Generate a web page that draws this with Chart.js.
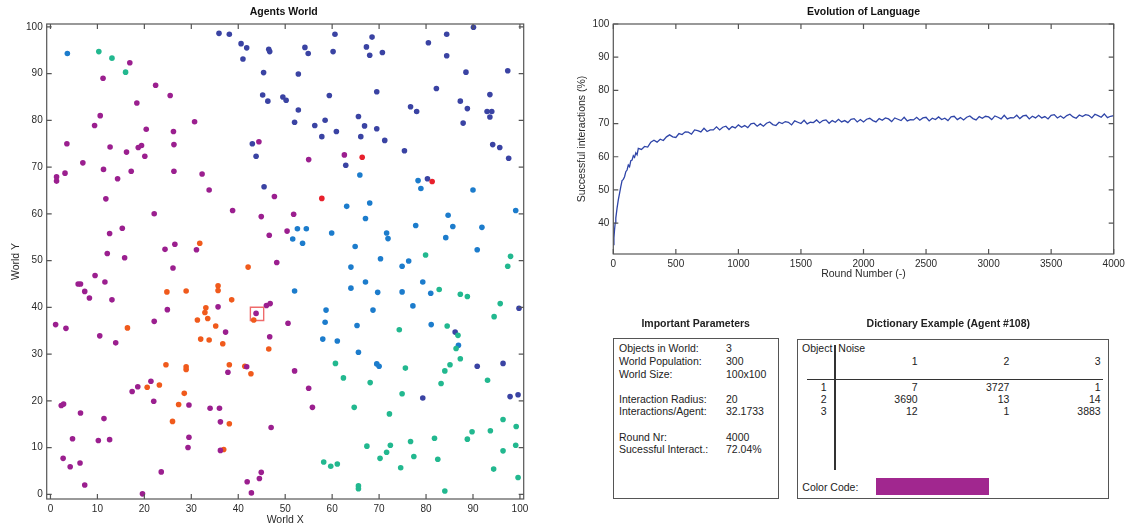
<!DOCTYPE html>
<html>
<head>
<meta charset="utf-8">
<script src="https://cdn.jsdelivr.net/npm/chart.js@4"></script>
<style>
  body { margin: 0; width: 1133px; height: 528px; overflow: hidden; background: #fff;
         font-family: 'Liberation Sans', Arial, sans-serif; color: #222; position: relative; }
  canvas { position: absolute; top: 0; }
  .t { position: absolute; font-size: 10.5px; line-height: 12px; white-space: nowrap; }
  .b { font-weight: bold; }
  .box { position: absolute; border: 1.3px solid #555; box-sizing: border-box; }
  .rule { position: absolute; background: #333; }
</style>
</head>
<body>
<canvas id="world" width="560" height="528" style="left:0"></canvas>
<canvas id="evolution" width="573" height="290" style="left:560px"></canvas>
<div id="panels"></div>
<script>
// Agents World - one list per colour group [x, y]
const darkBlueAgents = [[35.9,98.6],[38.1,98.4],[40.6,96.4],[41.8,95.5],[41.0,93.1],[46.5,95.2],[46.7,94.7],[45.4,90.2],[45.2,85.4],[46.3,84.1],
  [49.5,85.0],[50.2,84.3],[43.0,75.0],[43.8,72.3],[45.5,65.8],[60.6,98.4],[54.2,95.6],[54.9,94.3],[60.2,94.7],[68.5,97.8],
  [67.3,95.7],[68.0,93.9],[70.7,94.5],[80.5,96.6],[84.4,98.4],[84.4,93.8],[90.1,99.9],[88.5,90.3],[97.4,90.6],[52.8,89.9],
  [82.2,86.8],[69.5,86.1],[59.4,85.3],[87.3,84.1],[93.6,85.5],[52.8,82.2],[76.7,82.9],[78.0,81.9],[88.8,82.5],[93.0,81.9],
  [94.0,81.9],[93.6,80.7],[52.0,79.6],[56.3,78.9],[58.5,80.0],[65.6,80.8],[66.9,78.8],[69.5,78.2],[60.9,77.6],[57.8,76.5],
  [66.1,76.5],[71.2,75.7],[87.9,79.4],[94.2,74.8],[95.7,74.2],[97.6,71.9],[75.4,73.5],[62.9,70.4],[80.3,67.5],[99.8,39.8],
  [86.2,34.7],[90.9,27.4],[96.4,28.0],[79.3,20.6],[97.9,20.9],[99.6,21.3]];
const blueAgents = [[3.6,94.3],[65.9,68.3],[78.3,67.1],[78.9,65.4],[90.0,65.1],[63.1,61.6],[68.0,62.3],[67.1,59.0],[99.1,60.7],[84.7,59.7],
  [85.7,57.3],[91.9,57.1],[77.8,57.5],[52.6,56.8],[54.5,56.8],[51.6,54.6],[53.7,53.7],[59.9,55.9],[71.6,55.9],[71.9,54.7],
  [84.2,54.9],[64.9,53.0],[90.9,52.3],[70.3,50.4],[76.3,49.9],[64.0,48.6],[74.9,48.8],[52.0,43.5],[67.1,45.4],[64.0,44.1],
  [69.7,43.2],[74.9,43.3],[79.3,45.4],[81.0,43.0],[58.7,39.4],[58.5,36.8],[68.7,39.4],[77.2,40.3],[65.3,36.1],[81.1,36.3],
  [86.9,31.9],[58.0,33.2],[61.1,32.8],[65.6,30.4],[69.5,27.9],[70.0,27.4]];
const tealAgents = [[10.3,94.7],[13.1,93.3],[16.0,90.3],[79.9,51.2],[98.0,50.9],[97.4,48.8],[82.8,43.8],[87.3,42.8],[88.8,42.3],[95.8,40.8],
  [94.5,38.0],[74.3,35.2],[84.5,36.0],[86.8,34.0],[86.4,31.2],[87.3,29.0],[60.7,28.0],[75.6,27.0],[85.1,27.7],[84.0,26.4],
  [62.4,24.9],[68.1,23.9],[83.2,23.7],[93.1,24.4],[74.9,21.5],[64.7,18.6],[72.2,17.2],[96.4,16.0],[99.2,14.5],[89.8,13.4],
  [93.7,13.6],[81.8,12.0],[88.8,11.8],[67.4,10.3],[72.4,10.5],[76.7,11.3],[99.1,10.5],[71.6,9.0],[96.4,9.3],[70.2,7.7],
  [77.4,8.1],[82.5,7.5],[58.2,6.9],[59.7,6.0],[61.1,6.5],[74.6,5.7],[94.4,5.4],[99.6,3.6],[65.6,1.8],[65.6,1.2],[84.0,0.7]];
const redAgents = [[66.4,72.1],[81.3,66.9],[57.8,63.3]];
const orangeAgents = [[31.8,53.7],[42.1,48.6],[24.8,43.3],[28.9,43.5],[35.7,44.6],[35.7,43.6],[38.6,41.6],[33.1,39.9],[32.9,38.9],[33.5,37.6],
  [31.3,37.3],[16.4,35.6],[35.2,36.0],[43.3,37.3],[32.0,33.2],[33.8,33.0],[36.7,32.2],[46.5,31.1],[24.6,27.7],[28.9,27.3],
  [28.9,26.7],[38.1,27.7],[41.4,27.4],[42.7,25.8],[23.2,23.4],[20.6,22.9],[28.5,21.6],[27.3,19.2],[26.0,15.6],[38.1,15.1],[36.9,9.6]];
const purpleAgents = [[16.9,92.3],[11.2,89.0],[22.4,87.5],[25.5,85.3],[18.4,83.7],[10.6,81.0],[9.4,78.9],[30.7,79.7],[20.4,78.1],[26.2,77.6],
  [3.5,75.0],[12.7,74.3],[16.2,73.2],[18.7,74.2],[19.4,74.6],[26.3,74.8],[20.1,72.3],[6.9,70.9],[1.3,67.9],[1.3,67.0],
  [3.1,68.7],[11.3,69.5],[17.2,69.1],[26.3,69.1],[14.3,67.5],[32.3,68.5],[33.8,65.1],[11.8,63.2],[22.1,60.0],[38.8,60.7],
  [15.3,56.9],[12.6,55.8],[24.4,52.4],[26.5,53.5],[31.1,52.3],[12.1,51.5],[15.8,50.6],[26.1,48.4],[44.4,75.4],[47.7,63.7],
  [44.9,59.4],[46.6,55.4],[50.4,56.3],[48.2,49.6],[55.0,71.6],[62.6,72.6],[51.8,59.9],[9.5,46.8],[5.9,45.0],[6.4,45.0],
  [11.6,45.4],[7.3,43.4],[8.3,42.0],[13.1,41.6],[24.9,39.5],[35.7,40.1],[1.1,36.3],[3.3,35.5],[22.1,37.0],[37.3,34.7],
  [43.8,38.7],[46.0,40.4],[46.8,40.8],[10.5,33.9],[13.9,32.4],[46.7,33.7],[50.6,36.6],[41.8,27.3],[37.8,26.1],[21.4,24.2],
  [18.6,23.0],[17.4,22.0],[22.0,19.9],[29.5,19.1],[2.3,19.0],[2.8,19.3],[6.4,17.4],[34.0,18.4],[36.0,18.4],[11.4,16.2],
  [36.2,15.5],[47.0,14.3],[29.5,12.2],[4.7,11.9],[10.2,11.5],[12.6,11.7],[29.3,10.0],[36.2,9.4],[2.7,7.7],[6.3,6.7],
  [4.2,5.9],[7.3,2.0],[23.6,4.8],[19.6,0.1],[41.9,2.7],[44.5,3.4],[44.9,4.7],[42.8,0.3],[52.0,26.4],[55.0,22.7],[55.8,18.6]];
const selectedAgent = [[44.0,38.6]]; // agent #108
const worldTicks = [0, 10, 20, 30, 40, 50, 60, 70, 80, 90, 100];

// Evolution of Language
const rounds = [0,5,10,15,20,25,30,40,50,60,70,80,90,100,110,120,130,140,150,160,170,180,190,
  200,225,250,275,300,325,350,375, 400,425,450,475,500,525,550,575, 600,625,650,675,700,725,750,775,
  800,825,850,875,900,925,950,975, 1000,1025,1050,1075,1100,1125,1150,1175, 1200,1225,1250,1275,1300,1325,1350,1375,
  1400,1425,1450,1475,1500,1525,1550,1575, 1600,1625,1650,1675,1700,1725,1750,1775, 1800,1825,1850,1875,1900,1925,1950,1975,
  2000,2025,2050,2075,2100,2125,2150,2175, 2200,2225,2250,2275,2300,2325,2350,2375, 2400,2425,2450,2475,2500,2525,2550,2575,
  2600,2625,2650,2675,2700,2725,2750,2775, 2800,2825,2850,2875,2900,2925,2950,2975, 3000,3025,3050,3075,3100,3125,3150,3175,
  3200,3225,3250,3275,3300,3325,3350,3375, 3400,3425,3450,3475,3500,3525,3550,3575, 3600,3625,3650,3675,3700,3725,3750,3775,
  3800,3825,3850,3875,3900,3925,3950,3975, 4000];
const successRate = [33.5,35.5,38.0,40.0,41.5,43.0,44.5,47.0,49.0,51.0,52.8,53.2,54.0,55.5,56.0,57.5,57.0,58.8,59.0,60.3,59.8,61.2,60.6,
  62.5,62.2,63.1,62.9,64.4,65.0,64.4,65.3, 64.9,66.0,66.6,66.0,65.8,67.0,66.7,67.5, 67.4,66.8,68.1,67.9,67.5,68.6,67.6,68.1,
  68.1,69.0,68.1,68.9,69.2,68.2,69.1,68.7, 69.6,68.9,69.4,68.8,69.9,70.1,69.2,69.9, 69.2,70.1,70.5,69.7,69.4,70.4,70.0,70.6,
  70.4,69.6,70.8,70.4,70.0,71.0,69.9,70.4, 70.3,71.1,70.2,70.9,71.1,70.1,70.9,70.4, 71.3,70.5,70.9,70.3,71.3,71.5,70.5,71.2,
  70.5,71.3,71.6,70.9,70.5,71.5,71.0,71.7, 71.4,70.6,71.7,71.3,70.9,71.9,70.8,71.2, 71.1,71.9,71.0,71.7,71.9,70.8,71.6,71.2,
  72.0,71.2,71.6,70.9,72.0,72.2,71.2,71.8, 71.1,71.9,72.3,71.5,71.1,72.1,71.6,72.2, 72.0,71.2,72.3,71.9,71.4,72.5,71.4,71.8,
  71.7,72.5,71.5,72.3,72.5,71.4,72.2,71.7, 72.5,71.7,72.1,71.4,72.5,72.7,71.7,72.3, 71.6,72.4,72.8,72.0,71.6,72.6,72.1,72.7,
  72.5,71.7,72.8,72.4,71.9,72.9,71.8,72.2, 72.4];
const roundTicks = [0, 500, 1000, 1500, 2000, 2500, 3000, 3500, 4000];
const rateTicks = [40, 50, 60, 70, 80, 90, 100];

// Panels
const paramLabels = ['Objects in World:', 'World Population:', 'World Size:', '', 'Interaction Radius:', 'Interactions/Agent:', '', 'Round Nr:', 'Sucessful Interact.:'];
const paramValues = ['3', '300', '100x100', '', '20', '32.1733', '', '4000', '72.04%'];
const dictObjects = ['1', '2', '3'];
const dictNoise = ['1', '2', '3'];
const dictCounts = [[7, 3727, 1], [3690, 13, 14], [12, 1, 3883]];
const colorCode = '#a1278f';

const tickFont = { family: "'Liberation Sans', Arial, sans-serif", size: 10 };
const labelFont = { family: "'Liberation Sans', Arial, sans-serif", size: 10.5 };
const ink = '#2a2a2a';

// MATLAB style box: frame, inward ticks on all sides, title above
const boxTicks = {
  id: 'boxTicks',
  afterDraw(chart, args, opts) {
    const { ctx, chartArea: a, scales: { x, y } } = chart;
    ctx.save();
    ctx.strokeStyle = '#555';
    ctx.lineWidth = 1.2;
    ctx.strokeRect(a.left, a.top, a.right - a.left, a.bottom - a.top);
    ctx.beginPath();
    x.ticks.forEach(t => {
      const px = x.getPixelForValue(t.value);
      ctx.moveTo(px, a.bottom); ctx.lineTo(px, a.bottom - 5);
      ctx.moveTo(px, a.top); ctx.lineTo(px, a.top + 5);
    });
    y.ticks.forEach(t => {
      const py = y.getPixelForValue(t.value);
      ctx.moveTo(a.left, py); ctx.lineTo(a.left + 5, py);
      ctx.moveTo(a.right, py); ctx.lineTo(a.right - 5, py);
    });
    ctx.stroke();
    ctx.fillStyle = '#111';
    ctx.font = "bold 10.5px 'Liberation Sans', Arial, sans-serif";
    ctx.textAlign = 'center';
    ctx.textBaseline = 'middle';
    ctx.fillText(opts.title, (a.left + a.right) / 2 + (opts.dx || 0), opts.y);
    ctx.restore();
  }
};

function axis(min, max, ticks, extra) {
  return Object.assign({
    type: 'linear', min, max, bounds: 'data',
    afterBuildTicks: s => { s.ticks = ticks.map(v => ({ value: v })); },
    grid: { display: false, drawTicks: false }, border: { display: false },
    ticks: { font: tickFont, color: ink, padding: 4, autoSkip: false, maxRotation: 0, callback: v => String(v) }
  }, extra);
}

const groups = [
  [purpleAgents, '#9b1f8f'], [orangeAgents, '#f05a1c'], [redAgents, '#e8202c'],
  [tealAgents, '#22b88f'], [blueAgents, '#1c7ccc'], [darkBlueAgents, '#3a43a3']
];

new Chart(document.getElementById('world'), {
  type: 'scatter',
  data: {
    datasets: groups.map(([pts, c]) => ({
      data: pts.map(([x, y]) => ({ x, y })),
      backgroundColor: c, borderWidth: 0, pointRadius: 2.8
    })).concat([{
      data: selectedAgent.map(([x, y]) => ({ x, y })),
      pointStyle: 'rect', pointRadius: 9.4, backgroundColor: 'rgba(0,0,0,0)',
      borderColor: '#ef6b6b', borderWidth: 1.4
    }])
  },
  options: {
    responsive: false, animation: false,
    layout: { padding: { top: 24, right: 36.3, bottom: 0, left: 0 } },
    plugins: { legend: { display: false }, tooltip: { enabled: false }, boxTicks: { title: 'Agents World', y: 11.7, dx: -1.5 } },
    scales: {
      x: axis(-0.8, 100.8, worldTicks, {
        afterFit: s => { s.height = 29; },
        title: { display: true, text: 'World X', font: labelFont, color: ink, padding: { top: 0, bottom: 2 } }
      }),
      y: axis(-1, 100.6, worldTicks, {
        afterFit: s => { s.width = 46.7; },
        title: { display: true, text: 'World Y', font: labelFont, color: ink, padding: { top: 10, bottom: 0 } }
      })
    }
  },
  plugins: [boxTicks]
});

new Chart(document.getElementById('evolution'), {
  type: 'line',
  data: {
    datasets: [{
      data: rounds.map((r, i) => ({ x: r, y: successRate[i] })),
      borderColor: '#2f45a8', borderWidth: 1.3, pointRadius: 0, tension: 0, fill: false
    }]
  },
  options: {
    responsive: false, animation: false,
    layout: { padding: { top: 24, right: 19.3, bottom: 0, left: 0 } },
    plugins: { legend: { display: false }, tooltip: { enabled: false }, boxTicks: { title: 'Evolution of Language', y: 12.5 } },
    scales: {
      x: axis(0, 4000, roundTicks, {
        afterFit: s => { s.height = 36; },
        title: { display: true, text: 'Round Number (-)', font: labelFont, color: ink, padding: { top: 0, bottom: 9.5 } }
      }),
      y: axis(30.7, 100, rateTicks, {
        afterFit: s => { s.width = 53.3; },
        title: { display: true, text: 'Successful interactions (%)', font: labelFont, color: ink, padding: { top: 15.4, bottom: 0 } }
      })
    }
  },
  plugins: [boxTicks]
});

// text panels below the line chart
const panels = document.getElementById('panels');
function place(text, x, yc, align, cls) {
  const d = document.createElement('div');
  d.className = 't' + (cls ? ' ' + cls : '');
  d.textContent = text;
  d.style.top = (yc - 6) + 'px';
  if (align === 'right') d.style.right = (1133 - x) + 'px';
  else if (align === 'center') { d.style.left = (x - 150) + 'px'; d.style.width = '300px'; d.style.textAlign = 'center'; }
  else d.style.left = x + 'px';
  panels.appendChild(d);
  return d;
}
function block(cls, x, y, w, h, bg) {
  const d = document.createElement('div');
  d.className = cls;
  Object.assign(d.style, { left: x + 'px', top: y + 'px', width: w + 'px', height: h + 'px' });
  if (bg) d.style.background = bg;
  panels.appendChild(d);
}

place('Important Parameters', 695.7, 323.3, 'center', 'b');
block('box', 613.3, 338.3, 165.3, 160.7);
paramLabels.forEach((lab, i) => {
  const yc = 348.4 + i * 12.6;
  if (lab) place(lab, 619, yc);
  if (paramValues[i]) place(paramValues[i], 726, yc);
});

place('Dictionary Example (Agent #108)', 948.3, 323.3, 'center', 'b');
block('box', 796.7, 339, 312.6, 160);
place('Object', 802, 347.7);
place('Noise', 838.3, 347.7);
block('rule', 834.4, 344.5, 1.3, 125);
block('rule', 807.3, 378.7, 296, 1.3);
const colRight = [917.7, 1009.3, 1100.7];
dictNoise.forEach((n, j) => place(n, colRight[j], 361, 'right'));
dictObjects.forEach((o, i) => {
  const yc = 386.7 + i * 12;
  place(o, 826.7, yc, 'right');
  dictCounts[i].forEach((v, j) => place(String(v), colRight[j], yc, 'right'));
});
place('Color Code:', 802.3, 486.7);
block('rule', 875.7, 478.3, 113.3, 17, colorCode);
</script>
</body>
</html>
